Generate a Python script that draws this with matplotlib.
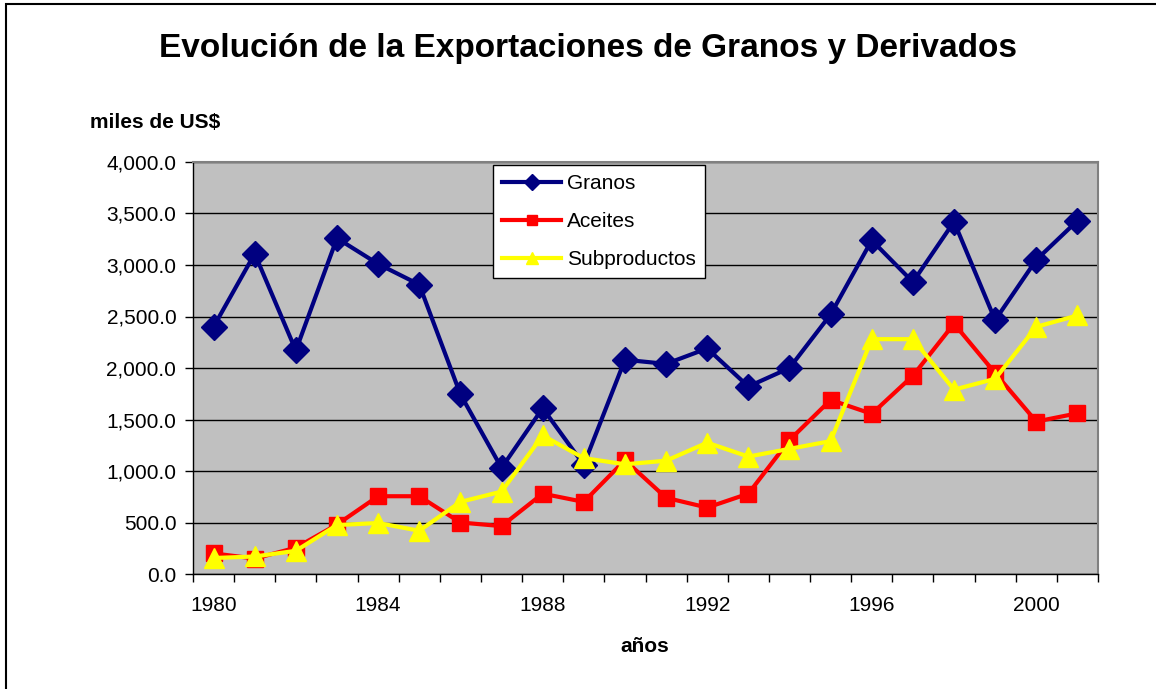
import numpy as np
import matplotlib
matplotlib.use('Agg')
import matplotlib.pyplot as plt
from matplotlib.patches import Rectangle
from matplotlib.ticker import FuncFormatter

years = list(range(1980, 2002))
granos = [2400, 3110, 2170, 3260, 3010, 2810, 1745, 1030, 1610, 1060,
          2080, 2040, 2190, 1820, 2000, 2520, 3240, 2835, 3420, 2465,
          3050, 3430]
aceites = [200, 150, 255, 480, 755, 755, 500, 465, 780, 700,
           1105, 740, 645, 780, 1300, 1690, 1555, 1925, 2430, 1950,
           1480, 1560]
subproductos = [155, 170, 225, 475, 495, 420, 700, 800, 1345, 1125,
                1065, 1100, 1275, 1140, 1215, 1290, 2280, 2280, 1790, 1895,
                2400, 2510]
year_labels = [1980, 1984, 1988, 1992, 1996, 2000]

plt.rcParams['font.family'] = ['Liberation Sans', 'DejaVu Sans']

fig = plt.figure(figsize=(11.56, 6.89), dpi=100)
ax = fig.add_axes([193 / 1156, 1 - 574 / 689, (1098 - 193) / 1156, (574 - 162) / 689])
ax.set_facecolor('#c0c0c0')

x = np.arange(len(years))
ax.plot(x, granos, color='#000080', lw=3, marker='D', ms=13, label='Granos', zorder=5)
ax.plot(x, aceites, color='#ff0000', lw=3, marker='s', ms=11, label='Aceites', zorder=4)
ax.plot(x, subproductos, color='#ffff00', lw=3, marker='^', ms=15, label='Subproductos', zorder=6)

ax.set_xlim(-0.5, len(years) - 0.5)
ax.set_ylim(0, 4000)
ax.set_yticks(np.arange(0, 4001, 500))
ax.yaxis.set_major_formatter(FuncFormatter(lambda v, p: '{:,.1f}'.format(v)))
ax.tick_params(axis='y', length=6, width=1, labelsize=15, pad=6, color='black')
ax.grid(axis='y', color='black', lw=1)
ax.set_axisbelow(True)

# category axis: ticks between categories, labels at centres
ax.set_xticks(np.arange(-0.5, len(years), 1.0))
ax.set_xticklabels([])
ax.set_xticks([years.index(y) for y in year_labels], minor=True)
ax.set_xticklabels([str(y) for y in year_labels], minor=True)
ax.tick_params(axis='x', which='major', length=6, width=1, color='black')
ax.tick_params(axis='x', which='minor', length=0, labelsize=15, pad=16)

for s in ['top', 'right']:
    ax.spines[s].set_color('#808080')
    ax.spines[s].set_linewidth(1.5)
for s in ['left', 'bottom']:
    ax.spines[s].set_color('black')
    ax.spines[s].set_linewidth(1)

leg = ax.legend(loc='upper left', bbox_to_anchor=(493 / 1156, 1 - 165 / 689),
                bbox_transform=fig.transFigure, fontsize=15, frameon=True,
                fancybox=False, shadow=False, handlelength=2.8, labelspacing=0.9,
                borderpad=0.45, handletextpad=0.3, borderaxespad=0,
                markerscale=0.6)
leg.get_frame().set_edgecolor('black')
leg.get_frame().set_linewidth(1)
leg.get_frame().set_alpha(1)

fig.text(588 / 1156, 1 - 48 / 689, 'Evolución de la Exportaciones de Granos y Derivados',
         ha='center', va='center', fontsize=24, fontweight='bold')
fig.text(155 / 1156, 1 - 122 / 689, 'miles de US$', ha='center', va='center',
         fontsize=15, fontweight='bold')
fig.text(645 / 1156, 1 - 647 / 689, 'años', ha='center', va='center',
         fontsize=15, fontweight='bold')

# outer chart frame
fig.patches.append(Rectangle((5.5 / 1156, -0.1), 1.2, 1.1 - 4.5 / 689,
                             transform=fig.transFigure, fill=False,
                             edgecolor='black', lw=1.5))

fig.savefig('out.png', dpi=100)
